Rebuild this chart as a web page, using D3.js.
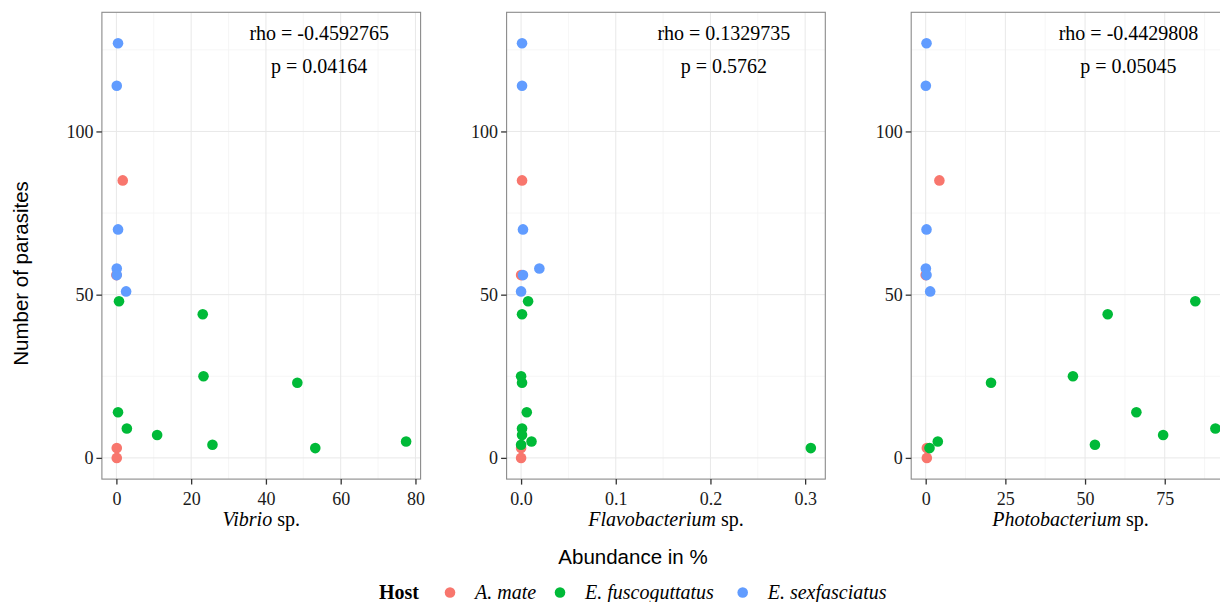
<!DOCTYPE html>
<html>
<head>
<meta charset="utf-8">
<script src="https://cdn.jsdelivr.net/npm/d3@7"></script>
<style>
  html, body { margin: 0; padding: 0; background: #fff; }
  svg { display: block; }
</style>
</head>
<body>
<script>
// ---- data -------------------------------------------------------------
const hostLevels = ["A. mate", "E. fuscoguttatus", "E. sexfasciatus"];
const hostColors = ["#F8766D", "#00BA38", "#619CFF"];

const hosts = [
  "A. mate", "A. mate", "A. mate", "A. mate",
  "E. fuscoguttatus", "E. fuscoguttatus", "E. fuscoguttatus", "E. fuscoguttatus", "E. fuscoguttatus",
  "E. fuscoguttatus", "E. fuscoguttatus", "E. fuscoguttatus", "E. fuscoguttatus", "E. fuscoguttatus",
  "E. sexfasciatus", "E. sexfasciatus", "E. sexfasciatus", "E. sexfasciatus", "E. sexfasciatus", "E. sexfasciatus"
];
const parasites = [85, 56, 3, 0,   48, 44, 25, 23, 14, 9, 7, 5, 4, 3,   127, 114, 70, 58, 56, 51];
const vibrio    = [1.7, 0, 0.1, 0.1,   0.7, 23.1, 23.3, 48.4, 0.44, 2.8, 10.9, 77.5, 25.7, 53.2,   0.44, 0.1, 0.44, 0.1, 0.1, 2.6];
const flavo     = [0.001, 0, 0, 0,   0.0074, 0.001, 0, 0.001, 0.006, 0.001, 0.001, 0.011, 0, 0.306,   0.001, 0.001, 0.002, 0.0193, 0.002, 0];
const photo     = [4.3, 0, 0.36, 0.36,   84.6, 57.1, 46.2, 20.5, 66.1, 90.9, 74.5, 3.8, 53.1, 1.2,   0.26, 0.05, 0.26, 0.05, 0.26, 1.41];

const genera    = ["Vibrio", "Flavobacterium", "Photobacterium"];
const rhoValues = ["-0.4592765", "0.1329735", "-0.4429808"];
const pValues   = ["0.04164", "0.5762", "0.05045"];
const xTickSets = [[0, 20, 40, 60, 80], [0, 0.1, 0.2, 0.3], [0, 25, 50, 75]];
const xTickFormats = ["d", ".1f", "d"];
const yTicks = [0, 50, 100];

// ---- layout -----------------------------------------------------------
const W = 1220, H = 602;
const panelLefts = [101.9, 506.6, 911.2];
const panelW = 318.7;
const panelTop = 12.3, panelBottom = 479.1;
const rhoY = 130, pY = 120;          // annotation heights in parasite units
const serif = "'Liberation Serif', 'Times New Roman', Times, serif";
const sans = "'Liberation Sans', Arial, Helvetica, sans-serif";

const svg = d3.select("body").append("svg")
  .attr("width", W).attr("height", H);

// expand a [min,max] range by 5% on each side (ggplot-style continuous scale)
function expand(ext) {
  const r = ext[1] - ext[0];
  return [ext[0] - 0.05 * r, ext[1] + 0.05 * r];
}

const y = d3.scaleLinear()
  .domain(expand(d3.extent(parasites.concat([rhoY, pY]))))
  .range([panelBottom, panelTop]);

const yMinor = [25, 75, 125];
const xSeries = [vibrio, flavo, photo];

xSeries.forEach((xs, k) => {
  const left = panelLefts[k];
  const x = d3.scaleLinear()
    .domain(expand(d3.extent(xs)))
    .range([left, left + panelW]);
  const g = svg.append("g");

  // minor grid
  const majors = xTickSets[k];
  const step = majors[1] - majors[0];
  const xMinor = d3.range(majors[0] - step / 2, majors[majors.length - 1] + step, step)
    .filter(v => v > x.domain()[0] && v < x.domain()[1]);
  g.selectAll(".xminor").data(xMinor).join("line")
    .attr("x1", d => x(d)).attr("x2", d => x(d))
    .attr("y1", panelTop).attr("y2", panelBottom)
    .attr("stroke", "#f4f4f4").attr("stroke-width", 0.8);
  g.selectAll(".yminor").data(yMinor).join("line")
    .attr("x1", left).attr("x2", left + panelW)
    .attr("y1", d => y(d)).attr("y2", d => y(d))
    .attr("stroke", "#f4f4f4").attr("stroke-width", 0.8);

  // major grid
  g.selectAll(".xmajor").data(majors).join("line")
    .attr("x1", d => x(d)).attr("x2", d => x(d))
    .attr("y1", panelTop).attr("y2", panelBottom)
    .attr("stroke", "#e8e8e8").attr("stroke-width", 1);
  g.selectAll(".ymajor").data(yTicks).join("line")
    .attr("x1", left).attr("x2", left + panelW)
    .attr("y1", d => y(d)).attr("y2", d => y(d))
    .attr("stroke", "#e8e8e8").attr("stroke-width", 1);

  // points
  const idx = d3.range(parasites.length);
  g.selectAll("circle").data(idx).join("circle")
    .attr("cx", i => x(xs[i]))
    .attr("cy", i => y(parasites[i]))
    .attr("r", 5.3)
    .attr("fill", i => hostColors[hostLevels.indexOf(hosts[i])]);

  // panel border
  g.append("rect")
    .attr("x", left).attr("y", panelTop)
    .attr("width", panelW).attr("height", panelBottom - panelTop)
    .attr("fill", "none").attr("stroke", "#8a8a8a").attr("stroke-width", 1.1);

  // axes
  const xAxis = d3.axisBottom(x).tickValues(majors)
    .tickFormat(d3.format(xTickFormats[k])).tickSizeOuter(0).tickSize(5.5).tickPadding(4);
  const gx = g.append("g").attr("transform", `translate(0,${panelBottom})`).call(xAxis);
  const yAxis = d3.axisLeft(y).tickValues(yTicks).tickFormat(d3.format("d"))
    .tickSizeOuter(0).tickSize(5.5).tickPadding(3);
  const gy = g.append("g").attr("transform", `translate(${left},0)`).call(yAxis);
  [gx, gy].forEach(a => {
    a.select(".domain").remove();
    a.selectAll(".tick line").attr("stroke", "#333").attr("stroke-width", 1.3);
    a.selectAll(".tick text").attr("fill", "#1a1a1a")
      .style("font-family", serif).style("font-size", "18px");
  });
  gx.selectAll(".tick text").attr("dy", "0.9em");

  // correlation annotation
  const ax = x(0.7 * d3.max(xs));
  g.append("text").attr("x", ax).attr("y", y(rhoY)).attr("dy", "0.34em")
    .attr("text-anchor", "middle").style("font-family", serif).style("font-size", "20px")
    .text(`rho = ${rhoValues[k]}`);
  g.append("text").attr("x", ax).attr("y", y(pY)).attr("dy", "0.34em")
    .attr("text-anchor", "middle").style("font-family", serif).style("font-size", "20px")
    .text(`p = ${pValues[k]}`);

  // panel x title
  const t = g.append("text").attr("x", left + panelW / 2).attr("y", 526)
    .attr("text-anchor", "middle").style("font-family", serif).style("font-size", "20px");
  t.append("tspan").style("font-style", "italic").text(genera[k]);
  t.append("tspan").text(" sp.");
});

// shared axis titles
svg.append("text")
  .attr("transform", "translate(28,273.5) rotate(-90)")
  .attr("text-anchor", "middle")
  .style("font-family", sans).style("font-size", "20.5px")
  .text("Number of parasites");

svg.append("text")
  .attr("x", 633).attr("y", 564)
  .attr("text-anchor", "middle")
  .style("font-family", sans).style("font-size", "20.5px")
  .text("Abundance in %");

// legend
const legend = svg.append("g");
legend.append("text").attr("x", 379).attr("y", 599)
  .style("font-family", serif).style("font-size", "20px").style("font-weight", "bold")
  .text("Host");
const keyX = [450, 560, 742.7];
hostLevels.forEach((h, i) => {
  legend.append("circle").attr("cx", keyX[i]).attr("cy", 592.5).attr("r", 5.3)
    .attr("fill", hostColors[i]);
  legend.append("text").attr("x", keyX[i] + 25).attr("y", 599)
    .style("font-family", serif).style("font-size", "20px").style("font-style", "italic")
    .text(h);
});
</script>
</body>
</html>
